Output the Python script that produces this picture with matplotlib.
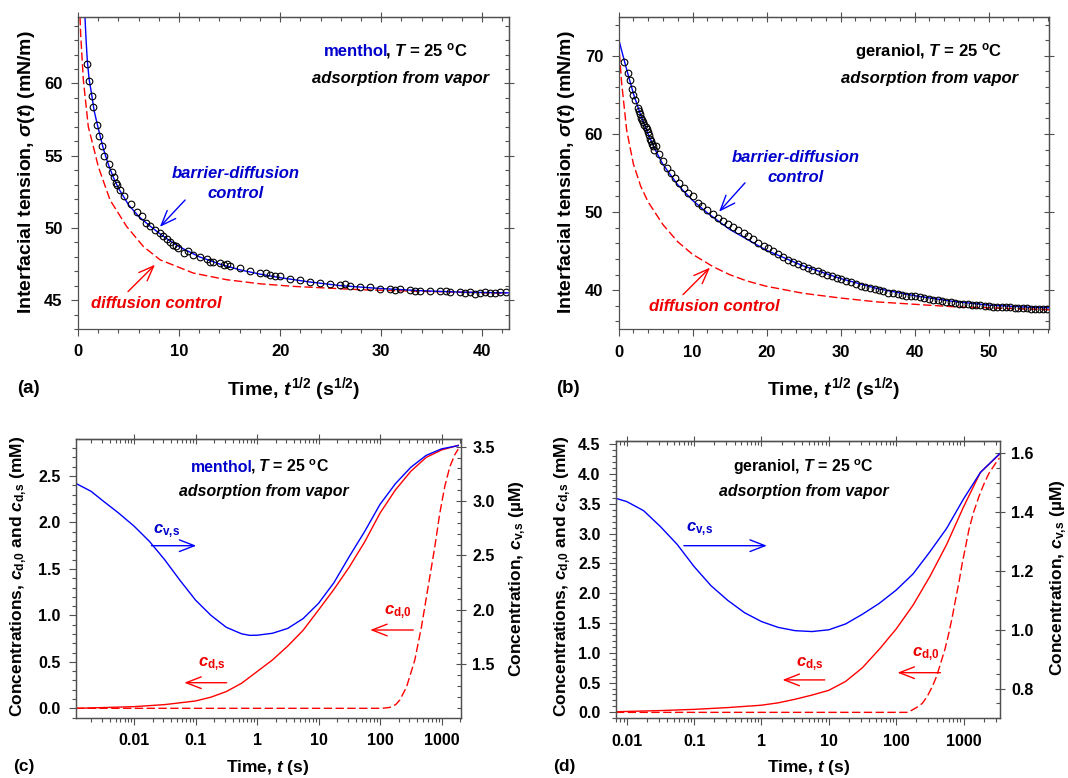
import matplotlib
matplotlib.use("Agg")
import matplotlib.pyplot as plt
from matplotlib.ticker import MultipleLocator, FixedLocator, FixedFormatter, LogLocator, NullFormatter, FormatStrFormatter

plt.rcParams['font.family'] = ['Liberation Sans', 'DejaVu Sans']
plt.rcParams['font.weight'] = 'bold'
plt.rcParams['mathtext.fontset'] = 'custom'
plt.rcParams['mathtext.rm'] = 'Liberation Sans:bold'
plt.rcParams['mathtext.it'] = 'Liberation Sans:bold:italic'
plt.rcParams['mathtext.bf'] = 'Liberation Sans:bold'
plt.rcParams['mathtext.sf'] = 'Liberation Sans:bold'

# ---------------- data ----------------
# (a) menthol, sigma vs t^1/2
a_exp_x = [0.92, 1.13, 1.36, 1.52, 1.85, 2.11, 2.34, 2.6, 3.1, 3.33, 3.57, 3.77, 3.9, 4.16, 4.56,
           5.22, 5.88, 6.31, 6.73, 7.13, 7.62, 8.12, 8.45, 8.78, 9.1, 9.44, 9.7, 9.93, 10.5, 10.92,
           11.42, 12.08, 12.74, 13.1, 13.4, 14.06, 14.4, 14.7, 15.05, 16.04, 17.03, 18.02, 18.6,
           19.01, 19.5, 20.0, 20.99, 21.98, 22.97, 23.96, 24.95, 25.94, 26.4, 26.93, 27.92, 28.91,
           29.9, 30.89, 31.4, 31.88, 32.87, 33.3, 33.86, 34.85, 35.84, 36.4, 36.83, 37.82, 38.3,
           38.81, 39.3, 39.8, 40.3, 40.79, 41.3, 41.78, 42.4]
a_exp_y = [61.38, 60.16, 59.15, 58.34, 57.12, 56.39, 55.7, 55.0, 54.4, 53.84, 53.54, 53.08, 52.97,
           52.62, 52.2, 51.65, 51.12, 50.82, 50.36, 50.13, 49.85, 49.62, 49.45, 49.2, 49.05, 48.81,
           48.75, 48.58, 48.28, 48.42, 48.12, 47.96, 47.82, 47.65, 47.66, 47.55, 47.45, 47.5, 47.36,
           47.2, 47.04, 46.9, 46.85, 46.74, 46.7, 46.67, 46.44, 46.39, 46.28, 46.16, 46.09, 46.05,
           46.1, 45.98, 45.93, 45.88, 45.79, 45.75, 45.7, 45.75, 45.7, 45.62, 45.65, 45.63, 45.6,
           45.65, 45.58, 45.56, 45.5, 45.54, 45.45, 45.51, 45.55, 45.47, 45.5, 45.56, 45.54]
a_bd_x = [0.69, 0.8, 0.92, 1.1, 1.36, 1.6, 2.0, 2.5, 3.0, 3.5, 4.0, 5.0, 6.0, 7.0, 8.0, 9.0, 10.0,
          12.0, 14.0, 16.0, 18.0, 20.0, 23.0, 26.0, 30.0, 34.0, 38.0, 42.6]
a_bd_y = [64.6, 63.0, 61.6, 60.3, 59.2, 58.1, 56.9, 55.5, 54.4, 53.5, 52.75, 51.6, 50.8, 50.2, 49.65,
          49.15, 48.7, 48.0, 47.5, 47.1, 46.8, 46.55, 46.25, 46.0, 45.8, 45.65, 45.55, 45.5]
a_d_x = [0.2, 0.26, 0.53, 1.02, 1.52, 2.01, 3.17, 4.82, 6.47, 8.12, 11.42, 14.72, 18.02, 21.32,
         27.92, 34.52, 42.4]
a_d_y = [64.6, 63.45, 60.23, 57.0, 55.62, 54.24, 51.93, 50.09, 48.71, 47.79, 46.87, 46.41, 46.13,
         45.95, 45.72, 45.6, 45.48]

# (b) geraniol, sigma vs t^1/2
b_exp_x = [0.8, 1.3, 1.6, 1.8, 2.0, 2.2, 2.6, 2.75, 2.9, 3.05, 3.2, 3.35, 3.5, 3.65, 3.8, 3.95, 4.1,
           4.25, 4.4, 4.55, 4.7, 4.85, 5.0, 5.5, 6.0, 6.6, 7.1, 7.6, 8.2, 8.8, 9.4, 10.0, 10.7, 11.3,
           12.0, 12.7, 13.4, 14.1, 14.8, 15.5, 16.2, 16.9, 17.5, 18.2, 18.9, 19.6, 20.2, 20.9, 21.6,
           22.2, 22.9, 23.6, 24.2, 24.9, 25.6, 26.2, 26.9, 27.5, 28.2, 28.8, 29.5, 30.1, 30.8, 31.4,
           32.1, 32.7, 33.3, 34.0, 34.6, 35.2, 35.8, 36.4, 37.1, 37.7, 38.3, 38.9, 39.5, 40.1, 40.7,
           41.3, 41.9, 42.5, 43.1, 43.7, 44.3, 44.9, 45.4, 46.0, 46.6, 47.2, 47.8, 48.3, 48.9, 49.5,
           50.1, 50.6, 51.2, 51.8, 52.3, 52.9, 53.5, 54.0, 54.6, 55.2, 55.7, 56.3, 56.8, 57.4, 57.9]
b_exp_y = [69.2, 67.8, 66.9, 65.8, 65.0, 64.3, 63.3, 62.9, 62.5, 62.1, 61.8, 61.5, 61.2, 60.9, 60.6,
           60.2, 59.8, 59.4, 59.1, 58.7, 58.4, 58.0, 58.4, 57.4, 56.5, 55.7, 55.0, 54.4, 53.7, 53.1,
           52.5, 52.0, 51.2, 50.8, 50.3, 49.8, 49.3, 48.9, 48.5, 48.1, 47.7, 47.3, 46.9, 46.5, 46.1,
           45.7, 45.35, 45.0, 44.6, 44.2, 43.9, 43.6, 43.35, 43.1, 42.85, 42.6, 42.4, 42.2, 42.0,
           41.8, 41.6, 41.4, 41.2, 41.0, 40.8, 40.6, 40.45, 40.3, 40.15, 40.0, 39.85, 39.7, 39.6,
           39.5, 39.4, 39.3, 39.2, 39.2, 39.1, 39.0, 38.9, 38.8, 38.7, 38.65, 38.55, 38.5, 38.4,
           38.3, 38.25, 38.2, 38.15, 38.1, 38.05, 38.0, 37.95, 37.9, 37.9, 37.85, 37.8, 37.8, 37.75,
           37.7, 37.7, 37.7, 37.65, 37.6, 37.6, 37.6, 37.6]
b_bd_x = [0.0, 1.0, 2.0, 3.0, 4.0, 5.0, 6.0, 8.0, 10.0, 12.0, 15.0, 20.0, 25.0, 30.0, 35.0, 40.0,
          45.0, 50.0, 55.0, 58.2]
b_bd_y = [72.2, 68.6, 65.2, 62.4, 60.0, 57.9, 56.1, 53.5, 51.5, 49.9, 47.8, 45.1, 43.1, 41.5, 40.2,
          39.3, 38.6, 38.1, 37.85, 37.75]
b_d_x = [0.0, 0.43, 1.1, 2.0, 3.0, 4.0, 6.0, 8.0, 10.0, 12.8, 15.0, 17.3, 20.0, 25.0, 30.0, 35.0,
         40.0, 45.0, 50.0, 55.0, 58.2]
b_d_y = [71.8, 66.5, 60.5, 56.2, 53.3, 51.3, 48.4, 46.2, 44.6, 43.0, 42.0, 41.2, 40.5, 39.6, 39.0,
         38.5, 38.2, 37.9, 37.75, 37.6, 37.5]

# (c) menthol concentrations vs t  (c_v,s in uM, c_d,s and c_d,0 in mM)
c_v_t = [0.00113, 0.002, 0.00316, 0.00562, 0.01, 0.0178, 0.0316, 0.0562, 0.1, 0.178, 0.316, 0.562,
         0.76, 1.0, 1.78, 3.16, 5.62, 10, 17.8, 31.6, 56.2, 100, 178, 316, 562, 1000, 1870]
c_v = [3.163, 3.09, 3.0, 2.89, 2.77, 2.63, 2.46, 2.27, 2.09, 1.95, 1.84, 1.78, 1.766, 1.767, 1.785,
       1.83, 1.92, 2.06, 2.25, 2.49, 2.72, 2.97, 3.16, 3.31, 3.42, 3.48, 3.51]
c_ds_t = [0.00113, 0.00316, 0.01, 0.0316, 0.1, 0.178, 0.316, 0.562, 1.0, 1.78, 3.16, 5.62, 10,
          17.8, 31.6, 56.2, 100, 178, 316, 562, 1000, 1870]
c_ds = [0.0, 0.008, 0.018, 0.04, 0.079, 0.12, 0.18, 0.27, 0.395, 0.52, 0.67, 0.84, 1.058, 1.28,
        1.52, 1.79, 2.10, 2.35, 2.55, 2.70, 2.78, 2.83]
c_d0_t = [0.00113, 0.01, 1.0, 100, 120, 144, 180, 210, 270, 368, 473, 607, 779, 938, 1132, 1366,
          1646, 1870]
c_d0 = [0.0, 0.0, 0.0, 0.0, 0.003, 0.01, 0.04, 0.09, 0.23, 0.52, 0.88, 1.31, 1.74, 2.10, 2.39, 2.60,
        2.73, 2.79]

# (d) geraniol concentrations vs t
d_v_t = [0.0069, 0.01, 0.0178, 0.0316, 0.0562, 0.1, 0.178, 0.316, 0.562, 1.0, 1.78, 3.16, 5.62, 10,
         17.8, 31.6, 56.2, 100, 178, 316, 562, 1000, 1780, 3400]
d_v = [1.447, 1.436, 1.405, 1.351, 1.29, 1.215, 1.15, 1.10, 1.058, 1.028, 1.008, 0.997, 0.994, 1.0,
       1.02, 1.053, 1.09, 1.135, 1.19, 1.265, 1.345, 1.445, 1.535, 1.598]
d_ds_t = [0.0069, 0.01, 0.0316, 0.1, 0.316, 1.0, 1.78, 3.16, 5.62, 10, 17.8, 31.6, 56.2, 100, 178,
          316, 562, 1000, 1780, 3400]
d_ds = [0.01, 0.015, 0.03, 0.05, 0.08, 0.12, 0.16, 0.22, 0.29, 0.37, 0.52, 0.75, 1.06, 1.40, 1.80,
        2.28, 2.82, 3.45, 4.03, 4.33]
d_d0_t = [0.0069, 0.1, 10, 150, 173, 200, 244, 290, 343, 400, 456, 530, 605, 680, 760, 860, 955,
          1080, 1199, 1400, 1687, 2000, 2371, 2900, 3400]
d_d0 = [0.0, 0.0, 0.0, 0.0, 0.04, 0.08, 0.15, 0.27, 0.43, 0.61, 0.82, 1.06, 1.33, 1.60, 1.89, 2.20,
        2.50, 2.80, 3.06, 3.35, 3.62, 3.83, 4.01, 4.16, 4.27]

log_ticks = [0.01, 0.1, 1, 10, 100, 1000]
log_labels = ['0.01', '0.1', '1', '10', '100', '1000']

# ---------------- styling ----------------
W, H = 1068, 778
BLUE = '#0000ff'
RED = '#ff0000'
TBLUE = '#0000cc'
TRED = '#ee0000'
SPINE = '#505050'
TOP_TICK_FS = 12
BOT_TICK_FS = 11.5
TOP_LAB_FS = 14
BOT_LAB_FS = 12.5
TXT_FS = 12

fig = plt.figure(figsize=(W / 100, H / 100), dpi=100)


def rect(l, r, t, b):
    return [l / W, 1 - b / H, (r - l) / W, (b - t) / H]


def ftext(x, y, s, **kw):
    fig.text(x / W, 1 - y / H, s, **kw)


def base_frame(ax, fs, pad):
    for s in ax.spines.values():
        s.set_color(SPINE)
        s.set_linewidth(0.9)
    ax.tick_params(which='both', colors=SPINE, labelcolor='black', width=0.8,
                   labelsize=fs, top=False, right=False)
    ax.tick_params(which='major', length=5, direction='out', pad=pad)
    ax.tick_params(which='minor', length=2.8, direction='out')


def top_ticks(ax, maj, mnr):
    sx = ax.secondary_xaxis('top')
    sx.xaxis.set_major_locator(maj)
    sx.xaxis.set_minor_locator(mnr)
    sx.xaxis.set_minor_formatter(NullFormatter())
    sx.tick_params(which='both', colors=SPINE, width=0.8, labeltop=False)
    sx.tick_params(which='major', direction='inout', length=7)
    sx.tick_params(which='minor', direction='in', length=3)
    sx.spines['top'].set_color(SPINE)
    sx.spines['top'].set_linewidth(0.9)


def right_ticks(ax, maj, mnr):
    sy = ax.secondary_yaxis('right')
    sy.yaxis.set_major_locator(maj)
    sy.yaxis.set_minor_locator(mnr)
    sy.tick_params(which='both', colors=SPINE, width=0.8, labelright=False)
    sy.tick_params(which='major', direction='inout', length=7)
    sy.tick_params(which='minor', direction='in', length=3)
    sy.spines['right'].set_color(SPINE)
    sy.spines['right'].set_linewidth(0.9)


def arrow(ax, xy_tip, xy_tail, color, coords='data', hl=0.9, hw=0.35):
    ax.annotate('', xy=xy_tip, xytext=xy_tail, xycoords=coords, textcoords=coords,
                arrowprops=dict(arrowstyle='->,head_length=%g,head_width=%g' % (hl, hw),
                                color=color, lw=1.0, mutation_scale=12,
                                shrinkA=0, shrinkB=0))


def title_line(ax, xy, name, name_color, fs, coords='data'):
    ax.annotate(name, xy=xy, xycoords=coords, color=name_color, fontsize=fs,
                ha='right', va='baseline')
    ax.annotate(r', $T$ = 25 $^{\rm o}$C', xy=xy, xycoords=coords, xytext=(-2.5, 0),
                textcoords='offset points', color='black', fontsize=fs,
                ha='left', va='baseline')


# ---------------- (a) ----------------
axa = fig.add_axes(rect(78, 509, 17, 329))
base_frame(axa, TOP_TICK_FS, 6)
axa.plot(a_d_x, a_d_y, color=RED, lw=1.0, dashes=(6, 2.5))
axa.plot(a_bd_x, a_bd_y, color=BLUE, lw=1.0)
axa.plot(a_exp_x, a_exp_y, 'o', ms=4.8, mfc='none', mec='black', mew=0.8)
axa.set_xlim(0, 42.65)
axa.set_ylim(43.0, 64.6)
axa.xaxis.set_major_locator(MultipleLocator(10))
axa.xaxis.set_minor_locator(MultipleLocator(2))
axa.yaxis.set_major_locator(MultipleLocator(5))
axa.yaxis.set_minor_locator(MultipleLocator(1))
top_ticks(axa, MultipleLocator(10), MultipleLocator(2))
right_ticks(axa, MultipleLocator(5), MultipleLocator(1))
title_line(axa, (30.74, 61.89), 'menthol', TBLUE, TXT_FS)
axa.text(31.93, 60.0, 'adsorption from vapor', style='italic', fontsize=TXT_FS, ha='center', va='baseline')
axa.text(15.64, 53.43, 'barrier-diffusion', style='italic', color=TBLUE, fontsize=TXT_FS, ha='center', va='baseline')
axa.text(15.64, 52.05, 'control', style='italic', color=TBLUE, fontsize=TXT_FS, ha='center', va='baseline')
axa.text(7.72, 44.45, 'diffusion control', style='italic', color=TRED, fontsize=TXT_FS, ha='center', va='baseline')
arrow(axa, (8.1, 50.07), (10.6, 51.93), BLUE)
arrow(axa, (7.62, 47.45), (4.95, 45.59), RED)

# ---------------- (b) ----------------
axb = fig.add_axes(rect(618.5, 1049.3, 16.7, 329.3))
base_frame(axb, TOP_TICK_FS, 6)
axb.plot(b_d_x, b_d_y, color=RED, lw=1.0, dashes=(6, 2.5))
axb.plot(b_bd_x, b_bd_y, color=BLUE, lw=1.0)
axb.plot(b_exp_x, b_exp_y, 'o', ms=4.8, mfc='none', mec='black', mew=0.8)
axb.set_xlim(0, 58.2)
axb.set_ylim(35, 75)
axb.xaxis.set_major_locator(MultipleLocator(10))
axb.xaxis.set_minor_locator(MultipleLocator(2))
axb.yaxis.set_major_locator(MultipleLocator(10))
axb.yaxis.set_minor_locator(MultipleLocator(2))
top_ticks(axb, MultipleLocator(10), MultipleLocator(2))
right_ticks(axb, MultipleLocator(10), MultipleLocator(2))
axb.text(41.87, 69.96, r'geraniol, $T$ = 25 $^{\rm o}$C', fontsize=TXT_FS, ha='center', va='baseline')
axb.text(42.0, 66.47, 'adsorption from vapor', style='italic', fontsize=TXT_FS, ha='center', va='baseline')
axb.text(23.99, 56.46, 'barrier-diffusion', style='italic', color=TBLUE, fontsize=TXT_FS, ha='center', va='baseline')
axb.text(23.99, 53.91, 'control', style='italic', color=TBLUE, fontsize=TXT_FS, ha='center', va='baseline')
axb.text(13.0, 37.31, 'diffusion control', style='italic', color=TRED, fontsize=TXT_FS, ha='center', va='baseline')
arrow(axb, (13.58, 50.04), (17.09, 53.74), BLUE)
arrow(axb, (12.36, 42.89), (8.72, 39.44), RED)


# ---------------- (c) and (d) ----------------
def conc_panel(r, xlim, ylim_l, ylim_r, lmaj, lmin, rmaj, rmin, t_v, v, t_ds, ds, t_d0, d0):
    ax = fig.add_axes(r)
    base_frame(ax, BOT_TICK_FS, 6)
    ax.set_xscale('log')
    ax.plot(t_d0, d0, color=RED, lw=1.0, dashes=(6, 2.5))
    ax.plot(t_ds, ds, color=RED, lw=1.0)
    ax.set_xlim(*xlim)
    ax.set_ylim(*ylim_l)
    ax.xaxis.set_major_locator(FixedLocator(log_ticks))
    ax.xaxis.set_major_formatter(FixedFormatter(log_labels))
    ax.xaxis.set_minor_locator(LogLocator(base=10, subs=range(2, 10), numticks=30))
    ax.xaxis.set_minor_formatter(NullFormatter())
    ax.yaxis.set_major_locator(MultipleLocator(lmaj))
    ax.yaxis.set_minor_locator(MultipleLocator(lmin))
    ax.yaxis.set_major_formatter(FormatStrFormatter('%.1f'))
    top_ticks(ax, FixedLocator(log_ticks), LogLocator(base=10, subs=range(2, 10), numticks=30))
    ax2 = ax.twinx()
    ax2.plot(t_v, v, color=BLUE, lw=1.0)
    ax2.set_ylim(*ylim_r)
    ax2.yaxis.set_major_locator(MultipleLocator(rmaj))
    ax2.yaxis.set_minor_locator(MultipleLocator(rmin))
    ax2.yaxis.set_major_formatter(FormatStrFormatter('%.1f'))
    for s in ax2.spines.values():
        s.set_color(SPINE)
        s.set_linewidth(0.9)
    ax2.tick_params(which='both', colors=SPINE, labelcolor='black', width=0.8, labelsize=BOT_TICK_FS)
    ax2.tick_params(which='major', direction='inout', length=7, pad=5)
    ax2.tick_params(which='minor', direction='in', length=3)
    return ax, ax2


axc, axc2 = conc_panel(rect(75.8, 460.5, 439.3, 717.7), (0.00113, 2036), (-0.101, 2.895),
                       (1.009, 3.568), 0.5, 0.1, 0.5, 0.1, c_v_t, c_v, c_ds_t, c_ds, c_d0_t, c_d0)
axd, axd2 = conc_panel(rect(615.9, 999.5, 440.7, 718.3), (0.0069, 3420), (-0.1, 4.562),
                       (0.699, 1.643), 0.5, 0.1, 0.2, 0.05, d_v_t, d_v, d_ds_t, d_ds, d_d0_t, d_d0)

CVS = r'$c_{\rm v,\!s}$'
CDS = r'$c_{\rm d,\!s}$'
CD0 = r'$c_{\rm d,\!0}$'

T = axc.transAxes
title_line(axc, (0.4606, 0.8836), 'menthol', TBLUE, TXT_FS * 0.95, coords='axes fraction')
axc.text(0.488, 0.7974, 'adsorption from vapor', style='italic', fontsize=TXT_FS * 0.95, ha='center', va='baseline', transform=T)
axc.text(0.2371, 0.6624, CVS, color=TBLUE, fontsize=TXT_FS, ha='center', va='baseline', transform=T)
axc.text(0.8371, 0.3714, CD0, color=TRED, fontsize=TXT_FS, ha='center', va='baseline', transform=T)
axc.text(0.3535, 0.1857, CDS, color=TRED, fontsize=TXT_FS, ha='center', va='baseline', transform=T)
arrow(axc, (0.3132, 0.6178), (0.1968, 0.6178), BLUE, coords='axes fraction')
arrow(axc, (0.7653, 0.315), (0.8773, 0.315), RED, coords='axes fraction')
arrow(axc, (0.282, 0.1257), (0.392, 0.1257), RED, coords='axes fraction')

T = axd.transAxes
axd.text(0.4893, 0.8883, r'geraniol, $T$ = 25 $^{\rm o}$C', fontsize=TXT_FS * 0.95, ha='center', va='baseline', transform=T)
axd.text(0.4894, 0.8019, 'adsorption from vapor', style='italic', fontsize=TXT_FS * 0.95, ha='center', va='baseline', transform=T)
axd.text(0.2192, 0.6722, CVS, color=TBLUE, fontsize=TXT_FS, ha='center', va='baseline', transform=T)
axd.text(0.505, 0.1859, CDS, color=TRED, fontsize=TXT_FS, ha='center', va='baseline', transform=T)
axd.text(0.8071, 0.2219, CD0, color=TRED, fontsize=TXT_FS, ha='center', va='baseline', transform=T)
arrow(axd, (0.3936, 0.6218), (0.1773, 0.6218), BLUE, coords='axes fraction')
arrow(axd, (0.4343, 0.1383), (0.5443, 0.1383), RED, coords='axes fraction')
arrow(axd, (0.7341, 0.1643), (0.8462, 0.1643), RED, coords='axes fraction')

# ---------------- labels ----------------
ylab_a = r'Interfacial tension, $\sigma$($t$) (mN/m)'
ftext(27, 172, ylab_a, fontsize=TOP_LAB_FS, rotation=90, ha='center', va='center', rotation_mode='anchor')
ftext(566.7, 172, ylab_a, fontsize=TOP_LAB_FS, rotation=90, ha='center', va='center', rotation_mode='anchor')
xlab_ab = r'Time, $t^{\rm 1/2}$ (s$^{\rm 1/2}$)'
ftext(294, 395, xlab_ab, fontsize=TOP_LAB_FS, ha='center', va='baseline')
ftext(834, 395, xlab_ab, fontsize=TOP_LAB_FS, ha='center', va='baseline')
ylab_cl = r'Concentrations, $c_{\rm d,\!0}$ and $c_{\rm d,\!s}$ (mM)'
ylab_cr = r'Concentration, $c_{\rm v,\!s}$ (µM)'
ftext(19, 576.5, ylab_cl, fontsize=BOT_LAB_FS, rotation=90, ha='center', va='center', rotation_mode='anchor')
ftext(518, 578.5, ylab_cr, fontsize=BOT_LAB_FS, rotation=90, ha='center', va='center', rotation_mode='anchor')
ftext(562.6, 576.5, ylab_cl, fontsize=BOT_LAB_FS, rotation=90, ha='center', va='center', rotation_mode='anchor')
ftext(1059, 577.5, ylab_cr, fontsize=BOT_LAB_FS, rotation=90, ha='center', va='center', rotation_mode='anchor')
xlab_cd = r'Time, $t$ (s)'
ftext(267.8, 772, xlab_cd, fontsize=BOT_LAB_FS, ha='center', va='baseline')
ftext(809, 772, xlab_cd, fontsize=BOT_LAB_FS, ha='center', va='baseline')
ftext(28, 393, '(a)', fontsize=13.5, ha='center', va='baseline')
ftext(567.5, 393, '(b)', fontsize=13.5, ha='center', va='baseline')
ftext(24, 771, '(c)', fontsize=BOT_LAB_FS, ha='center', va='baseline')
ftext(564.4, 771, '(d)', fontsize=BOT_LAB_FS, ha='center', va='baseline')

fig.savefig('out.png', dpi=100)
